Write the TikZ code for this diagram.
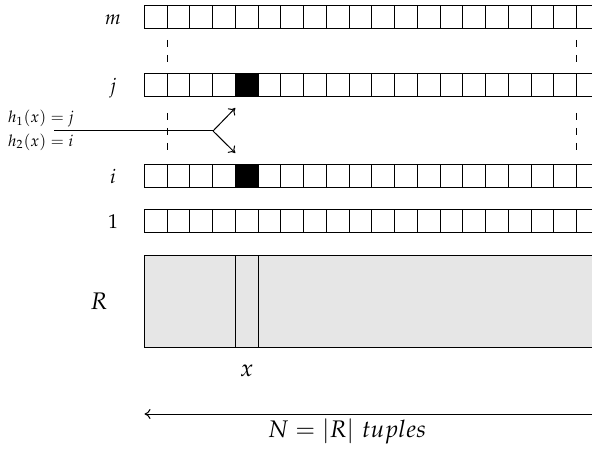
\documentclass[tikz,border=0pt]{standalone}
\usepackage{mathpazo}
\usepackage{xcolor}
\definecolor{cTuple}{HTML}{E6E6E6}
\usepackage{tikz}
\usetikzlibrary{positioning,arrows.meta,calc}
\tikzset{
  cell/.style={draw=black,line width=0.5pt,minimum width=11.375pt,
    minimum height=11.5pt,inner sep=0pt,outer sep=0pt},
  cell-hit/.style={fill=black},
  row-label/.style={font=\normalsize,anchor=base,inner sep=0pt},
  hash-label/.style={font=\footnotesize,align=left,inner sep=0pt},
  big-label/.style={font=\large,inner sep=0pt},
  relation/.style={draw=black,line width=0.5pt,fill=cTuple,inner sep=0pt,outer sep=0pt},
  guide/.style={line width=0.5pt,dash pattern=on 3.5pt off 4pt},
  arrow/.style={-{To[length=3pt,width=5pt]},line width=0.5pt},
}

\begin{document}
\begin{tikzpicture}[x=0.5pt,y=-0.5pt]
  \clip (0,0) rectangle (592,453);
  % rows of the bit array
  \foreach \r/\y/\t in {m/17.5/m, j/85.5/j, i/176.5/i, one/221.5/1} {
    \foreach \k in {0,...,20}
      \node[cell] (\r-\k) at ({155.675+22.75*\k},\y) {};
    \node[row-label] (lab-\r) at (113,\y+7) {$\t$};
  }
  \node[cell,cell-hit] at (j-4) {};
  \node[cell,cell-hit] at (i-4) {};
  % elided rows
  \draw[guide] ($(m-1.south west)+(0,11)$) -- ($(j-1.north west)+(0,-11)$);
  \draw[guide] ($(j-1.south west)+(0,16)$) -- ($(i-1.north west)+(0,-10)$);
  \draw[guide] ($(m-19.south west)+(0,11)$) -- ($(j-19.north west)+(0,-11)$);
  \draw[guide] ($(j-19.south west)+(0,16)$) -- ($(i-19.north west)+(0,-10)$);
  % relation R
  \node[relation,minimum width=240pt,minimum height=45.5pt,anchor=north west]
    (rel) at (144.3,256) {};
  \node[relation,minimum width=11.375pt,minimum height=45.5pt] (tup)
    at (rel.center -| j-4.center) {};
  \node[big-label] (lab-R) at (99,301) {$R$};
  \node[big-label,below=8.5pt of tup.south] (lab-x) {$x$};
  % hashing of x
  \node[hash-label] (hx) at (41,130) {$h_1(x) = j$\\[2.5pt]$h_2(x) = i$};
  \coordinate (hstart) at (54,131);
  \coordinate (split) at (213,131);
  \coordinate (jhit) at ($(j-4.south west)+(0,11)$);
  \coordinate (ihit) at ($(i-4.north west)+(0,-12)$);
  \draw[line width=0.5pt] (hstart) -- (split);
  \draw[arrow] (split) -- (jhit);
  \draw[arrow] (split) -- (ihit);
  % size of R
  \coordinate (nfrom) at (620,414);
  \coordinate (nto) at (144.5,414);
  \draw[arrow] (nfrom) -- (nto);
  \node[big-label] (lab-N) at (347,431) {$N = |R|\ tuples$};
\end{tikzpicture}
\end{document}
